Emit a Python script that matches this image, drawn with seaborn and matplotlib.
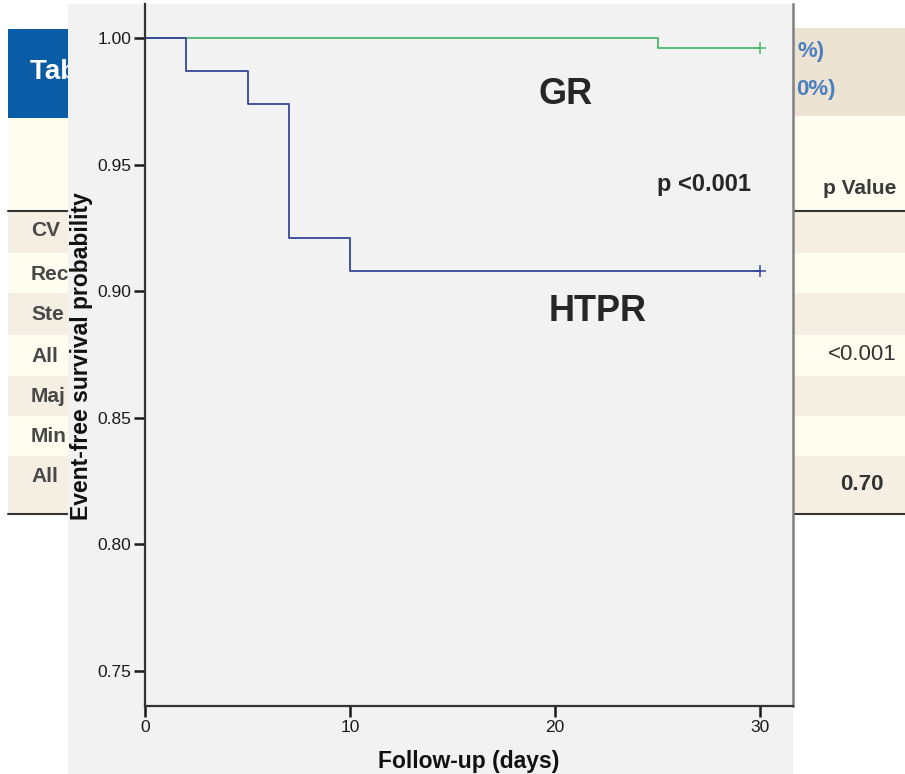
import numpy as np
import pandas as pd
import seaborn as sns
import matplotlib.pyplot as plt
from matplotlib.patches import Rectangle

# Kaplan-Meier steps
gr_days = [0, 25, 30]
gr_surv = [1.000, 0.996, 0.996]
htpr_days = [0, 2, 5, 7, 10, 30]
htpr_surv = [1.000, 0.987, 0.974, 0.921, 0.908, 0.908]
groups = ['GR', 'HTPR']
y_ticks = [0.75, 0.80, 0.85, 0.90, 0.95, 1.00]
x_ticks = [0, 10, 20, 30]

# table fragments that show around the plot
row_labels = ['CV', 'Rec', 'Ste', 'All', 'Maj', 'Min', 'All']
row_pvalues = ['', '', '', '<0.001', '', '', '0.70']

W, H = 905, 774
sns.set_style('ticks')
plt.rcParams['font.family'] = ['Liberation Sans', 'DejaVu Sans']

fig = plt.figure(figsize=(W / 100, H / 100), dpi=100)
fig.patch.set_facecolor('white')

# background layer in pixel coordinates
bg = fig.add_axes([0, 0, 1, 1], zorder=-1)
bg.set_xlim(0, W)
bg.set_ylim(H, 0)
bg.axis('off')

def box(x0, y0, x1, y1, color, z=1):
    bg.add_patch(Rectangle((x0, y0), x1 - x0, y1 - y0, color=color, lw=0, zorder=z))

for (a, b) in [(8, 68), (793, W)]:
    box(a, 116, b, 210, '#fffdf0')
row_edges = [210, 253, 293, 335, 376, 416, 456, 515]
for i in range(len(row_labels)):
    c = '#f4eee3' if i % 2 == 0 else '#fffcf0'
    box(8, row_edges[i], W, row_edges[i + 1], c)
box(8, 29, 68, 118, '#0b5ca6')
box(793, 28, W, 116, '#ede3d3')
for y in [211, 514]:
    bg.plot([8, W], [y, y], color='#333333', lw=1.5, zorder=2)

bg.text(30, 72, 'Table 2', color='white', fontsize=20, fontweight='bold', va='center', zorder=3)
for i, lab in enumerate(row_labels):
    bg.text(31, row_edges[i] + 21, lab, color='#484848', fontsize=15,
            fontweight='bold', va='center', zorder=3)
    if row_pvalues[i]:
        yc = (row_edges[i] + row_edges[i + 1]) / 2
        bg.text(862, yc - 1, row_pvalues[i], color='#333333', fontsize=16,
                fontweight='bold' if row_pvalues[i] == '0.70' else 'normal',
                ha='center', va='center', zorder=3)
bg.text(797, 52, '%)', color='#4a7fc0', fontsize=16, fontweight='bold', va='center', zorder=3)
bg.text(796, 90, '0%)', color='#4a7fc0', fontsize=16, fontweight='bold', va='center', zorder=3)
bg.text(860, 188, 'p Value', color='#3a3a3a', fontsize=15, fontweight='bold', ha='center', va='center', zorder=3)

# grey plot panel on top of the table
box(68, 4, 793, H, '#f2f2f2', z=10)

# survival plot
ax = fig.add_axes([145 / W, 1 - 706 / H, (793 - 145) / W, (706 - 4) / H], zorder=1)
ax.set_facecolor('#f2f2f2')

df = pd.concat([
    pd.DataFrame({'days': gr_days, 'surv': gr_surv, 'group': 'GR'}),
    pd.DataFrame({'days': htpr_days, 'surv': htpr_surv, 'group': 'HTPR'}),
])
palette = {'GR': '#4cb86b', 'HTPR': '#34469a'}
sns.lineplot(data=df, x='days', y='surv', hue='group', palette=palette,
             drawstyle='steps-post', estimator=None, sort=False, lw=1.3,
             legend=False, ax=ax)
ends = df.groupby('group').tail(1)
sns.scatterplot(data=ends, x='days', y='surv', hue='group', palette=palette,
                marker='+', s=70, linewidth=1.1, legend=False, ax=ax)

ax.set_xlim(0, 31.6)
ax.set_ylim(0.7362, 1.0134)
ax.set_xticks(x_ticks)
ax.set_yticks(y_ticks)
ax.set_yticklabels([f'{v:.2f}' for v in y_ticks])
ax.tick_params(axis='both', direction='out', length=8, width=1.8, pad=2,
               labelsize=12.5, colors='#1a1a1a')
ax.spines['top'].set_visible(False)
for s in ['left', 'bottom']:
    ax.spines[s].set_color('#333333')
    ax.spines[s].set_linewidth(1.6)
ax.spines['right'].set_color('#808080')
ax.spines['right'].set_linewidth(1.8)

ax.set_xlabel('Follow-up (days)', fontsize=16.5, fontweight='bold', color='#111111')
ax.xaxis.label.set_va('baseline')
ax.xaxis.set_label_coords(0.5, -0.0885)
ax.set_ylabel('Event-free survival probability', fontsize=16.5, fontweight='bold', color='#111111')
ax.yaxis.label.set_va('center')
ax.yaxis.set_label_coords(-0.0985, 0.4986)

ax.text(20.49, 0.9775, 'GR', fontsize=26, fontweight='bold', ha='center', va='center')
ax.text(27.27, 0.942, 'p <0.001', fontsize=17, fontweight='bold', ha='center', va='center')
ax.text(22.05, 0.8918, 'HTPR', fontsize=26, fontweight='bold', ha='center', va='center')

fig.savefig('out.png', dpi=100)
